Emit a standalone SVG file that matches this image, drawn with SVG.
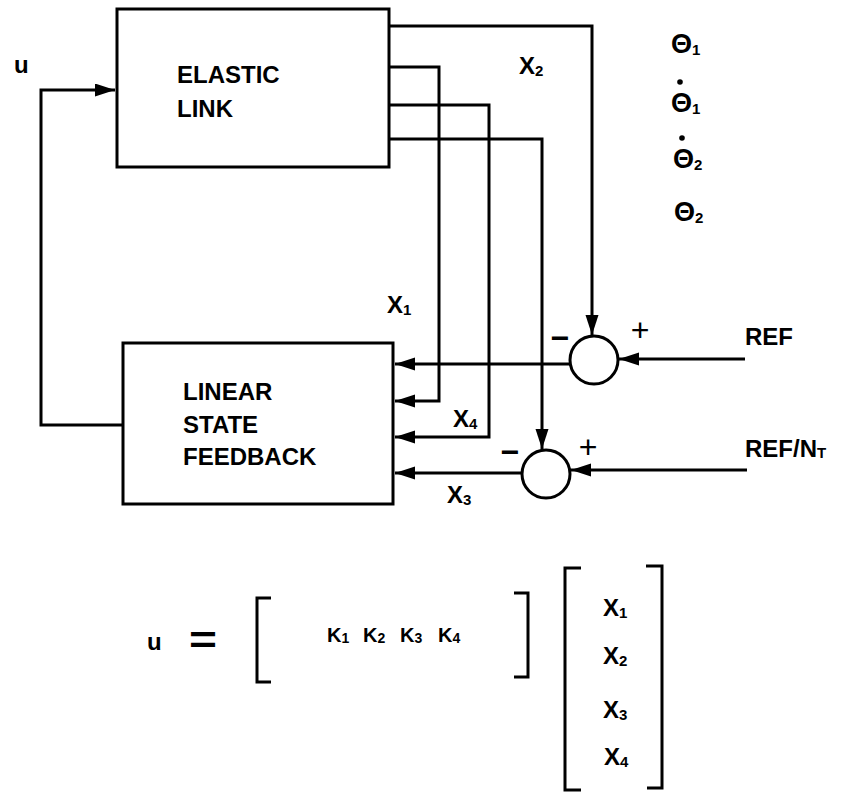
<svg xmlns="http://www.w3.org/2000/svg" width="845" height="792" viewBox="0 0 845 792">
<style>
.box{fill:none;stroke:#000;stroke-width:3}
.ln{fill:none;stroke:#000;stroke-width:3}
.ar{fill:none;stroke:#000;stroke-width:3;marker-end:url(#ah)}
text{font-family:"Liberation Sans",Arial,sans-serif;font-weight:bold;fill:#000}
.t{font-size:24px}
.th{font-size:27px}
.s{font-size:15px}
.k{font-size:20px}
.ks{font-size:14px}
.pl{font-size:32px;font-weight:normal}
.mi{font-size:32px}
</style>
<defs>
<marker id="ah" markerUnits="userSpaceOnUse" markerWidth="22" markerHeight="14" refX="20" refY="6.5" orient="auto">
<path d="M0,0 L20,6.5 L0,13 z" fill="#000"/>
</marker>
</defs>
<rect width="845" height="792" fill="#fff"/>

<g id="connectors">
<path class="ar" d="M123,425 H41 V90 H115"/>
<path class="ar" d="M389,26 H592 V335"/>
<path class="ar" d="M389,67 H439 V401 H395"/>
<path class="ar" d="M389,105 H489 V437 H395"/>
<path class="ar" d="M389,139 H542 V449"/>
<path class="ar" d="M570,364 H395"/>
<path class="ar" d="M522,473 H395"/>
<path class="ar" d="M745,359 H619"/>
<path class="ar" d="M747,470 H571"/>
</g>

<g id="elastic-link">
<rect class="box" x="117" y="9" width="272" height="158"/>
<text class="t" x="177" y="83">ELASTIC</text>
<text class="t" x="177" y="117">LINK</text>
</g>

<g id="linear-state-feedback">
<rect class="box" x="123" y="343" width="270" height="161"/>
<text class="t" x="183" y="400">LINEAR</text>
<text class="t" x="183" y="433">STATE</text>
<text class="t" x="183" y="465">FEEDBACK</text>
</g>

<g id="sum1">
<circle class="ln" cx="594" cy="360" r="24" fill="#fff"/>
<text class="mi" x="560" y="349" text-anchor="middle">−</text>
<text class="pl" x="640" y="341" text-anchor="middle">+</text>
</g>

<g id="sum2">
<circle class="ln" cx="546" cy="474" r="24" fill="#fff"/>
<text class="mi" x="510" y="463" text-anchor="middle">−</text>
<text class="pl" x="588" y="458" text-anchor="middle">+</text>
</g>

<g id="labels">
<text class="t" x="14" y="73">u</text>
<text class="t" x="519" y="74">X<tspan class="s" dy="2">2</tspan></text>
<text class="t" x="387" y="313">X<tspan class="s" dy="2">1</tspan></text>
<text class="t" x="453" y="427">X<tspan class="s" dy="2">4</tspan></text>
<text class="t" x="447" y="503">X<tspan class="s" dy="2">3</tspan></text>
<text class="t" x="745" y="345">REF</text>
<text class="t" x="745" y="457">REF/N<tspan class="s" dy="1">T</tspan></text>
</g>

<g id="states">
<text class="th" x="671" y="53">Θ<tspan class="s" dy="2">1</tspan></text>
<circle cx="680" cy="82" r="2.8" fill="#000"/>
<text class="th" x="671" y="112">Θ<tspan class="s" dy="2">1</tspan></text>
<circle cx="682" cy="138" r="2.8" fill="#000"/>
<text class="th" x="673" y="168">Θ<tspan class="s" dy="2">2</tspan></text>
<text class="th" x="674" y="221">Θ<tspan class="s" dy="2">2</tspan></text>
</g>

<g id="equation">
<text class="t" x="147" y="650">u</text>
<text x="189" y="653" style="font-size:38px" textLength="28" lengthAdjust="spacingAndGlyphs">=</text>
<path class="ln" d="M271,598 H257 V682 H271"/>
<text class="k" x="327" y="642">K<tspan class="ks" dy="1">1</tspan></text>
<text class="k" x="363" y="642">K<tspan class="ks" dy="1">2</tspan></text>
<text class="k" x="400" y="642">K<tspan class="ks" dy="1">3</tspan></text>
<text class="k" x="438" y="642">K<tspan class="ks" dy="1">4</tspan></text>
<path class="ln" d="M514,593 H528 V677 H514"/>
<path class="ln" d="M581,568 H565 V790 H581"/>
<path class="ln" d="M646,566 H662 V788 H647"/>
<text class="t" x="603" y="616">X<tspan class="s" dy="2">1</tspan></text>
<text class="t" x="603" y="664">X<tspan class="s" dy="2">2</tspan></text>
<text class="t" x="603" y="718">X<tspan class="s" dy="2">3</tspan></text>
<text class="t" x="604" y="765">X<tspan class="s" dy="2">4</tspan></text>
</g>
</svg>
